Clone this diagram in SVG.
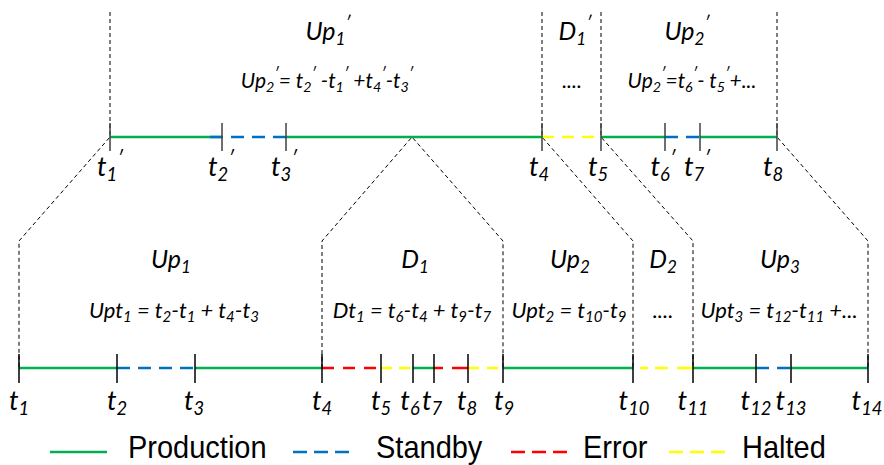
<svg xmlns="http://www.w3.org/2000/svg" width="884" height="465" viewBox="0 0 884 465">
<style>
.lb{font-family:Lato,"Open Sans","DejaVu Sans",sans-serif;font-style:italic;fill:#000;text-anchor:middle}
.ttl{font-size:25px}
.frm{font-size:22px}
.frt{font-size:21px}
.tk{font-size:27px}
.s{font-size:68%}
.p{font-size:70%}
.cn{fill:none;stroke:#000;stroke-width:1;stroke-dasharray:4 3}
.seg{fill:none;stroke-width:2.5}
.g{stroke:#00B050}
.b{stroke:#0070C0;stroke-dasharray:13 8}
.r{stroke:#FF0000;stroke-dasharray:12 9}
.y{stroke:#FFFF00;stroke-dasharray:12 8}
.tick{stroke:#404040;stroke-width:1.5}
.tickb{stroke:#000;stroke-width:1.5}
.leg{font-family:"Liberation Sans",Arial,sans-serif;font-size:29px;fill:#000}
</style>

<g id="connectors">
  <path class="cn" d="M110,12 V137 L19,241 V368"/>
  <path class="cn" d="M542,12 V137 L633,241 V368"/>
  <path class="cn" d="M601,12 V137 L693,241 V368"/>
  <path class="cn" d="M777,12 V137 L868,241 V368"/>
  <path class="cn" d="M322,368 V241 L412,137 L503,241 V368"/>
</g>

<g id="timeline-top">
  <line class="seg g" x1="110" y1="137" x2="222" y2="137"/>
  <line class="seg b" x1="210" y1="137" x2="286" y2="137"/>
  <line class="seg g" x1="286" y1="137" x2="542" y2="137"/>
  <line class="seg y" x1="542" y1="137" x2="601" y2="137"/>
  <line class="seg g" x1="601" y1="137" x2="665" y2="137"/>
  <line class="seg b" x1="665" y1="137" x2="700" y2="137"/>
  <line class="seg g" x1="700" y1="137" x2="777" y2="137"/>
  <g class="tick">
    <line x1="110" y1="123" x2="110" y2="151"/>
    <line x1="222" y1="123" x2="222" y2="151"/>
    <line x1="286" y1="123" x2="286" y2="151"/>
    <line x1="542" y1="123" x2="542" y2="151"/>
    <line x1="601" y1="123" x2="601" y2="151"/>
    <line x1="665" y1="123" x2="665" y2="151"/>
    <line x1="700" y1="123" x2="700" y2="151"/>
    <line x1="777" y1="123" x2="777" y2="151"/>
  </g>
  <text class="lb tk" x="110" y="176">t<tspan class="s" dy="5">1</tspan><tspan class="p" dy="-16">′</tspan></text>
  <text class="lb tk" x="221" y="176">t<tspan class="s" dy="5">2</tspan><tspan class="p" dy="-16">′</tspan></text>
  <text class="lb tk" x="284" y="176">t<tspan class="s" dy="5">3</tspan><tspan class="p" dy="-16">′</tspan></text>
  <text class="lb tk" x="539" y="176">t<tspan class="s" dy="5">4</tspan></text>
  <text class="lb tk" x="598" y="176">t<tspan class="s" dy="5">5</tspan></text>
  <text class="lb tk" x="663" y="176">t<tspan class="s" dy="5">6</tspan><tspan class="p" dy="-16">′</tspan></text>
  <text class="lb tk" x="697" y="176">t<tspan class="s" dy="5">7</tspan><tspan class="p" dy="-16">′</tspan></text>
  <text class="lb tk" x="773" y="176">t<tspan class="s" dy="5">8</tspan></text>
</g>

<g id="timeline-bottom">
  <line class="seg g" x1="19" y1="368" x2="117" y2="368"/>
  <line class="seg b" x1="117" y1="368" x2="195" y2="368"/>
  <line class="seg g" x1="195" y1="368" x2="322" y2="368"/>
  <line class="seg r" x1="322" y1="368" x2="381" y2="368"/>
  <line class="seg y" x1="381" y1="368" x2="413" y2="368" style="stroke-dasharray:11 7"/>
  <line class="seg g" x1="413" y1="368" x2="434" y2="368"/>
  <line class="seg r" x1="434" y1="368" x2="468" y2="368" style="stroke-dasharray:9 9 16"/>
  <line class="seg y" x1="468" y1="368" x2="503" y2="368" style="stroke-dasharray:11 8"/>
  <line class="seg g" x1="503" y1="368" x2="633" y2="368"/>
  <line class="seg y" x1="633" y1="368" x2="693" y2="368" style="stroke-dasharray:0 7 8 7 13 9 14"/>
  <line class="seg g" x1="693" y1="368" x2="756" y2="368"/>
  <line class="seg b" x1="756" y1="368" x2="791" y2="368"/>
  <line class="seg g" x1="791" y1="368" x2="868" y2="368"/>
  <g class="tickb">
    <line x1="19" y1="354" x2="19" y2="383"/>
    <line x1="117" y1="354" x2="117" y2="383"/>
    <line x1="195" y1="354" x2="195" y2="383"/>
    <line x1="322" y1="354" x2="322" y2="383"/>
    <line x1="381" y1="354" x2="381" y2="383"/>
    <line x1="413" y1="354" x2="413" y2="383"/>
    <line x1="434" y1="354" x2="434" y2="383"/>
    <line x1="468" y1="354" x2="468" y2="383"/>
    <line x1="503" y1="354" x2="503" y2="383"/>
    <line x1="633" y1="354" x2="633" y2="383"/>
    <line x1="693" y1="354" x2="693" y2="383"/>
    <line x1="756" y1="354" x2="756" y2="383"/>
    <line x1="791" y1="354" x2="791" y2="383"/>
    <line x1="868" y1="354" x2="868" y2="383"/>
  </g>
  <text class="lb tk" x="19" y="410">t<tspan class="s" dy="5">1</tspan></text>
  <text class="lb tk" x="117" y="410">t<tspan class="s" dy="5">2</tspan></text>
  <text class="lb tk" x="194" y="410">t<tspan class="s" dy="5">3</tspan></text>
  <text class="lb tk" x="322" y="410">t<tspan class="s" dy="5">4</tspan></text>
  <text class="lb tk" x="381" y="410">t<tspan class="s" dy="5">5</tspan></text>
  <text class="lb tk" x="410" y="410">t<tspan class="s" dy="5">6</tspan></text>
  <text class="lb tk" x="432" y="410">t<tspan class="s" dy="5">7</tspan></text>
  <text class="lb tk" x="467" y="410">t<tspan class="s" dy="5">8</tspan></text>
  <text class="lb tk" x="504" y="410">t<tspan class="s" dy="5">9</tspan></text>
  <text class="lb tk" x="634" y="410">t<tspan class="s" dy="5">10</tspan></text>
  <text class="lb tk" x="693" y="410">t<tspan class="s" dy="5">11</tspan></text>
  <text class="lb tk" x="756" y="410">t<tspan class="s" dy="5">12</tspan></text>
  <text class="lb tk" x="791" y="410">t<tspan class="s" dy="5">13</tspan></text>
  <text class="lb tk" x="867" y="410">t<tspan class="s" dy="5">14</tspan></text>
</g>

<g id="period-Up1p">
  <text class="lb ttl" x="328" y="40">Up<tspan class="s" dy="5">1</tspan><tspan class="p" dy="-16">′</tspan></text>
  <text class="lb frt" x="327" y="88">Up<tspan class="s" dy="4">2</tspan><tspan class="p" dy="-13">′</tspan><tspan dy="9">= t</tspan><tspan class="s" dy="4">2</tspan><tspan class="p" dy="-13">′</tspan><tspan dy="9"> -t</tspan><tspan class="s" dy="4">1</tspan><tspan class="p" dy="-13">′</tspan><tspan dy="9"> +t</tspan><tspan class="s" dy="4">4</tspan><tspan class="p" dy="-13">′</tspan><tspan dy="9">-t</tspan><tspan class="s" dy="4">3</tspan><tspan class="p" dy="-13">′</tspan></text>
</g>
<g id="period-D1p">
  <text class="lb ttl" x="575" y="40">D<tspan class="s" dy="5">1</tspan><tspan class="p" dy="-16">′</tspan></text>
  <text class="lb frt" x="572" y="88">....</text>
</g>
<g id="period-Up2p">
  <text class="lb ttl" x="687" y="40">Up<tspan class="s" dy="5">2</tspan><tspan class="p" dy="-16">′</tspan></text>
  <text class="lb frt" x="692" y="88">Up<tspan class="s" dy="4">2</tspan><tspan class="p" dy="-13">′</tspan><tspan dy="9">=t</tspan><tspan class="s" dy="4">6</tspan><tspan class="p" dy="-13">′</tspan><tspan dy="9">- t</tspan><tspan class="s" dy="4">5</tspan><tspan class="p" dy="-13">′</tspan><tspan dy="9">+...</tspan></text>
</g>

<g id="period-Up1">
  <text class="lb ttl" x="171" y="268">Up<tspan class="s" dy="5">1</tspan></text>
  <text class="lb frm" x="174" y="318">Upt<tspan class="s" dy="4">1</tspan><tspan dy="-4"> = t</tspan><tspan class="s" dy="4">2</tspan><tspan dy="-4">-t</tspan><tspan class="s" dy="4">1</tspan><tspan dy="-4"> + t</tspan><tspan class="s" dy="4">4</tspan><tspan dy="-4">-t</tspan><tspan class="s" dy="4">3</tspan></text>
</g>
<g id="period-D1">
  <text class="lb ttl" x="415" y="268">D<tspan class="s" dy="5">1</tspan></text>
  <text class="lb frm" x="412" y="318">Dt<tspan class="s" dy="4">1</tspan><tspan dy="-4"> = t</tspan><tspan class="s" dy="4">6</tspan><tspan dy="-4">-t</tspan><tspan class="s" dy="4">4</tspan><tspan dy="-4"> + t</tspan><tspan class="s" dy="4">9</tspan><tspan dy="-4">-t</tspan><tspan class="s" dy="4">7</tspan></text>
</g>
<g id="period-Up2">
  <text class="lb ttl" x="570" y="268">Up<tspan class="s" dy="5">2</tspan></text>
  <text class="lb frm" x="569" y="318">Upt<tspan class="s" dy="4">2</tspan><tspan dy="-4"> = t</tspan><tspan class="s" dy="4">10</tspan><tspan dy="-4">-t</tspan><tspan class="s" dy="4">9</tspan></text>
</g>
<g id="period-D2">
  <text class="lb ttl" x="663" y="268">D<tspan class="s" dy="5">2</tspan></text>
  <text class="lb frm" x="663" y="318">....</text>
</g>
<g id="period-Up3">
  <text class="lb ttl" x="780" y="268">Up<tspan class="s" dy="5">3</tspan></text>
  <text class="lb frm" x="779" y="318">Upt<tspan class="s" dy="4">3</tspan><tspan dy="-4"> = t</tspan><tspan class="s" dy="4">12</tspan><tspan dy="-4">-t</tspan><tspan class="s" dy="4">11</tspan><tspan dy="-4"> +...</tspan></text>
</g>

<g id="legend">
  <line x1="50" y1="452" x2="107" y2="452" stroke="#00B050" stroke-width="2.5"/>
  <text class="leg" transform="translate(128,458) scale(1,1.1)">Production</text>
  <line x1="293" y1="452" x2="349" y2="452" stroke="#0070C0" stroke-width="2.5" stroke-dasharray="14 7"/>
  <text class="leg" transform="translate(376,458) scale(1,1.1)">Standby</text>
  <line x1="511" y1="452" x2="567" y2="452" stroke="#FF0000" stroke-width="2.5" stroke-dasharray="14 7"/>
  <text class="leg" transform="translate(583,458) scale(1,1.1)">Error</text>
  <line x1="669" y1="452" x2="725" y2="452" stroke="#FFFF00" stroke-width="2.5" stroke-dasharray="14 7"/>
  <text class="leg" transform="translate(742,458) scale(1,1.1)">Halted</text>
</g>
</svg>
